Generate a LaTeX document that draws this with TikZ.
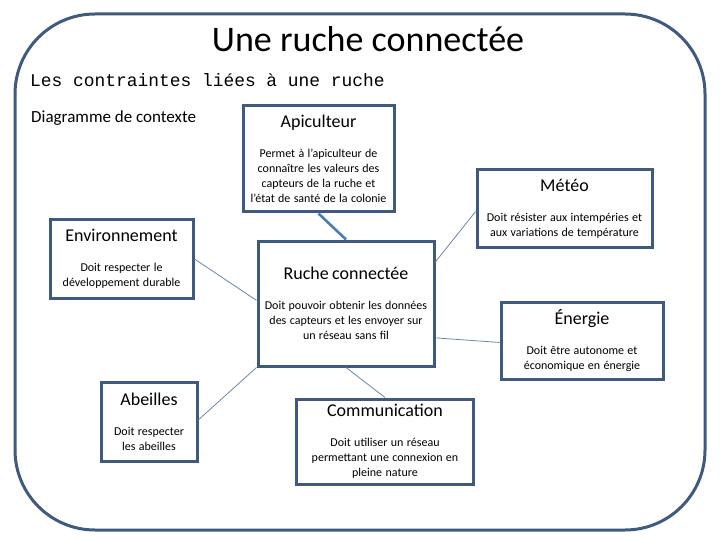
\documentclass[tikz,border=0pt]{standalone}
\usepackage{fontspec}
\setmainfont{Carlito}
\newfontfamily\courier{Liberation Mono}
\definecolor{cadre}{HTML}{3E5A7E}
\definecolor{lienfort}{HTML}{4A7DB5}
\definecolor{lienfin}{HTML}{6A88A6}
\newcommand{\boite}[2]{{\fontsize{18}{22}\selectfont #1\par}\vspace{15pt}{\fontsize{12}{15}\selectfont #2\par}}

\begin{document}
\begin{tikzpicture}[x=1pt,y=-1pt,
  boite/.style={draw=cadre,line width=3pt,fill=white,align=center,inner sep=4pt},
  lien/.style={draw=lienfin,line width=0.8pt}]
  \useasboundingbox (0,0) rectangle (720,540);
  \draw[cadre,line width=3pt,rounded corners=80pt] (15,14) rectangle (705,530);

  \node[anchor=base]      (titre) at (368,52)  {\fontsize{36}{40}\selectfont Une ruche connectée};
  \node[anchor=base west,inner sep=0pt] (sous)  at (30,87)   {\courier\fontsize{17.9}{20}\selectfont Les contraintes liées à une ruche};
  \node[anchor=base west,inner sep=0pt] (diag)  at (31,123)  {\fontsize{17}{20}\selectfont Diagramme de contexte};

  \node[boite,text width=143pt,minimum height=106pt] (api)      at (318.5,159)   {\boite{Apiculteur}{Permet à l’apiculteur de\\connaître les valeurs des\\capteurs de la ruche et\\l’état de santé de la colonie}};
  \node[boite,text width=167pt,minimum height=77pt]  (meteo)    at (564.5,208.5) {\boite{Météo}{Doit résister aux intempéries et\\aux variations de température}};
  \node[boite,text width=135pt,minimum height=78pt]  (env)      at (121.5,259)   {\boite{Environnement}{Doit respecter le\\développement durable}};
  \node[boite,text width=168pt,minimum height=125pt] (ruche)    at (346,303.5)   {\boite{Ruche connectée}{Doit pouvoir obtenir les données\\des capteurs et les envoyer sur\\un réseau sans fil}};
  \node[boite,text width=154pt,minimum height=77pt]  (energie)  at (582,341)     {\boite{Énergie}{Doit être autonome et\\économique en énergie}};
  \node[boite,text width=88pt,minimum height=79pt]   (abeilles) at (149,421.5)   {\boite{Abeilles}{Doit respecter\\les abeilles}};
  \node[boite,text width=169pt,minimum height=85pt]  (comm)     at (385,441.5)   {\boite{Communication}{Doit utiliser un réseau\\permettant une connexion en\\pleine nature}};

  \draw[lien,draw=lienfort,line width=2.6pt] (api.south) -- (ruche.north);
  \draw[lien] (ruche.25)  -- (meteo.182);
  \draw[lien] (env.east)  -- (ruche.178);
  \draw[lien] (ruche.-21) -- (energie.181);
  \draw[lien] (abeilles.2) -- (ruche.south west);
  \draw[lien] (ruche.south) -- (comm.north);
\end{tikzpicture}
\end{document}
